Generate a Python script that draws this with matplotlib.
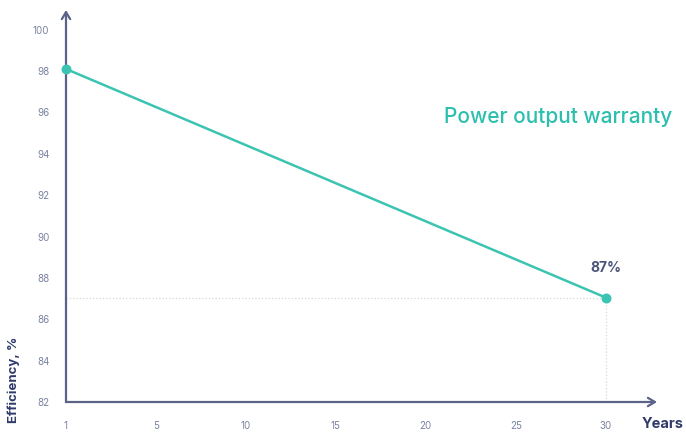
import matplotlib.pyplot as plt

# tick labels on the x axis (evenly spaced, categorical)
year_labels = ["1", "5", "10", "15", "20", "25", "30"]
y_ticks = [82, 84, 86, 88, 90, 92, 94, 96, 98, 100]

# warranty points: first year and year 30
point_years = ["1", "30"]
point_values = [98.1, 87.05]

teal = "#3cc4b2"
axis_col = "#5b6488"
tick_col = "#7a82a0"
navy = "#2f3a6a"

plt.rcParams['font.family'] = ['Inter', 'DejaVu Sans']

fig = plt.figure(figsize=(6.86, 4.32), dpi=100)
ax = fig.add_axes([66 / 686, 1 - 402 / 432, (657 - 66) / 686, (402 - 10) / 432])

xpos = [year_labels.index(y) for y in point_years]

# dotted guides to the end point
ax.plot([0, xpos[1]], [point_values[1]] * 2, linestyle=':', color="#d3d7e0", lw=0.9)
ax.plot([xpos[1]] * 2, [82, point_values[1]], linestyle=':', color="#d3d7e0", lw=0.9)

ax.plot(xpos, point_values, color=teal, lw=1.8, zorder=3)
ax.scatter(xpos, point_values, color=teal, s=38, zorder=4, clip_on=False)

ax.set_xlim(0, 6.57)
ax.set_ylim(82, 100.95)
ax.set_xticks(range(len(year_labels)))
ax.set_xticklabels(year_labels)
ax.set_yticks(y_ticks)
ax.tick_params(length=0, labelsize=7, colors=tick_col)
ax.tick_params(axis='x', pad=14)
ax.tick_params(axis='y', pad=12)

for s in ax.spines.values():
    s.set_visible(False)

# axis arrows
ax.annotate("", xy=(0, 1), xytext=(0, 0), xycoords='axes fraction',
            arrowprops=dict(arrowstyle='->,head_length=0.5,head_width=0.3', color=axis_col, lw=1.6,
                            shrinkA=0, shrinkB=0))
ax.annotate("", xy=(1, 0), xytext=(0, 0), xycoords='axes fraction',
            arrowprops=dict(arrowstyle='->,head_length=0.5,head_width=0.3', color=axis_col, lw=1.6,
                            shrinkA=0, shrinkB=0))

ax.text(xpos[1], point_values[1] + 1.1, "87%", ha='center', va='bottom',
        fontsize=10, fontweight='bold', color="#4a5378")
fig.text(558 / 686, 1 - 117 / 432, "Power output warranty", ha='center', va='center',
         fontsize=15, fontweight='medium', color="#2bbfae")
fig.text(663 / 686, 1 - 424 / 432, "Years", ha='center', va='center',
         fontsize=10.5, fontweight='bold', color=navy)
fig.text(14 / 686, 1 - 380 / 432, "Efficiency, %", ha='center', va='center',
         rotation=90, fontsize=9.5, fontweight='bold', color=navy)

fig.savefig("out.png", dpi=100)
